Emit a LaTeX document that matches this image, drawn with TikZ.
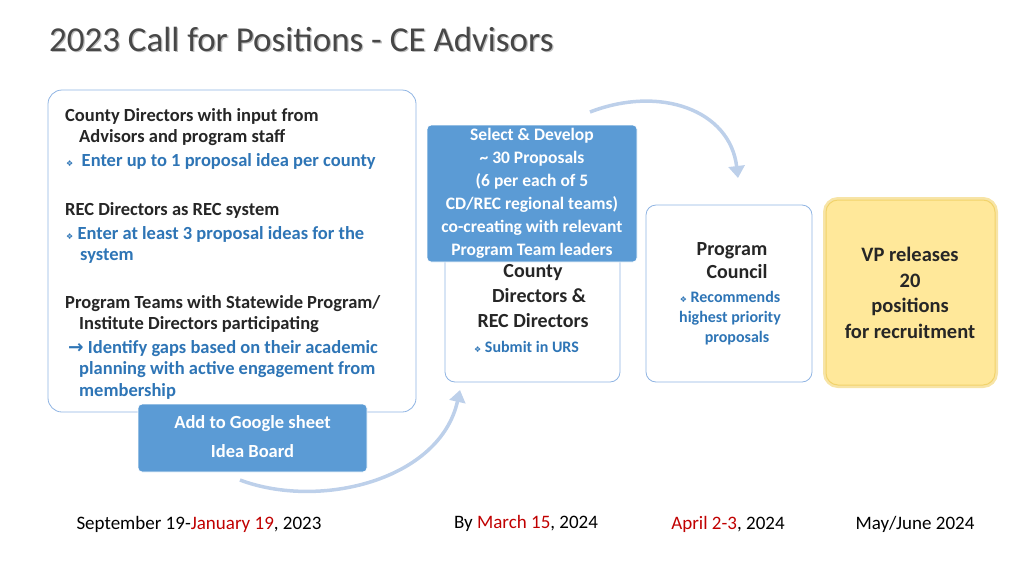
\documentclass[tikz,border=0pt]{standalone}
\usepackage{fontspec}
\setmainfont{Carlito}
\newfontfamily\symfont{DejaVu Sans}
\usetikzlibrary{positioning}
\usetikzlibrary{arrows.meta}
\definecolor{boxline}{HTML}{8FB4E3}
\definecolor{bluefill}{HTML}{5B9BD5}
\definecolor{bluetext}{HTML}{2E75B6}
\definecolor{darktext}{HTML}{262626}
\definecolor{vpfill}{HTML}{FFE89A}
\definecolor{vpline}{HTML}{F2D36B}
\definecolor{arcline}{HTML}{BDD0EA}
\definecolor{datered}{HTML}{C00000}
\newcommand{\dia}{{\symfont\footnotesize\char"2756}}
\newcommand{\rar}{{\symfont\char"2192}}
\tikzset{
  outlinebox/.style={draw=boxline,line width=0.8pt,rounded corners=14pt,fill=white},
  bluebox/.style={draw=white,line width=0.8pt,fill=bluefill,rounded corners=4pt},
  dark/.style={text=darktext,font=\bfseries\fontsize{18.5}{21.5}\selectfont,align=left,anchor=north west,inner sep=0pt},
  blue/.style={dark,text=bluetext},
  whitetext/.style={text=white,font=\bfseries\fontsize{18.5}{29}\selectfont,align=center},
  arc/.style={arcline,line width=3.5pt,-{Triangle[length=12pt,width=16pt]}},
  date/.style={font=\fontsize{19}{22}\selectfont,text=black}
}
\begin{document}
\begin{tikzpicture}[x=1pt,y=-1pt]
	\useasboundingbox (0,0) rectangle (1024,576);
	
	% title
	\node[anchor=west,text=gray!50,font=\fontsize{35}{40}\selectfont] at (46.8,40.8) {2023 Call for Positions - CE Advisors};
	\node[anchor=west,text=darktext!85,font=\fontsize{35}{40}\selectfont] (title) at (45.5,39.5) {2023 Call for Positions - CE Advisors};
	
	% arcs
	\coordinate (topstart) at (590,112);
	\coordinate (topend) at (738,178);
	\draw[arc] (topstart) .. controls (660,85) and (730,110) .. (topend);
	\coordinate (botstart) at (240,480);
	\coordinate (botend) at (460,390);
	\draw[arc] (botstart) .. controls (320,510) and (440,480) .. (botend);
	
	% left box
	\draw[outlinebox] (48,90) rectangle (416,412);
	\node[dark] (cd) at (65,108) {County Directors with input from\\\hspace{14pt}Advisors and program staff};
	\node[blue] (cdb) at (66,153) {\dia\ \ Enter up to 1 proposal idea per county};
	\node[dark] (rec) at (65,202) {REC Directors as REC system};
	\node[blue] (recb) at (66,226) {\dia\ Enter at least 3 proposal ideas for the\\\hspace{14pt}system};
	\node[dark] (pt) at (65,295) {Program Teams with Statewide Program/\\\hspace{14pt}Institute Directors participating};
	\node[blue] (ptb) at (68,340) {\rar\ Identify gaps based on their academic\\\hspace{11pt}planning with active engagement from\\\hspace{11pt}membership};
	
	% google sheet
	\draw[bluebox] (138,404) rectangle (367,472);
	\node[whitetext] (gs) at (252.5,437) {Add to Google sheet\\Idea Board};
	
	% county directors box
	\draw[outlinebox,rounded corners=10pt] (445,215) rectangle (620,382);
	\node[dark,anchor=north,align=center,font=\bfseries\fontsize{20}{25}\selectfont] (cdr) at (533,264) {County\\\hspace{12pt}Directors \&\\REC Directors};
	\node[blue,font=\bfseries\fontsize{16}{18}\selectfont] (urs) at (474,341) {\dia\ Submit in URS};
	
	% select & develop
	\draw[bluebox] (427,125) rectangle (637,262);
	\node[whitetext,font=\bfseries\fontsize{17.5}{23}\selectfont] (sel) at (532,193.5) {Select \& Develop\\\textasciitilde\ 30 Proposals\\(6 per each of 5\\CD/REC regional teams)\\co-creating with relevant\\Program Team leaders};
	
	% program council
	\draw[outlinebox,rounded corners=10pt] (646,205) rectangle (812,382);
	\node[dark,anchor=north,align=center,font=\bfseries\fontsize{20}{23}\selectfont] (pc) at (732,242) {Program\\\hspace{10pt}Council};
	\node[blue,anchor=north,align=center,font=\bfseries\fontsize{16}{20}\selectfont] (rc) at (730,291) {\dia\ Recommends\\highest priority\\\hspace{14pt}proposals};
	
	% vp box
	\draw[vpline!60,line width=6pt,rounded corners=12pt] (826,200) rectangle (995,385);
	\draw[draw=vpline,fill=vpfill,line width=1pt,rounded corners=12pt] (826,200) rectangle (995,385);
	\node[dark,anchor=center,align=center,font=\bfseries\fontsize{20.5}{25.5}\selectfont] (vp) at (910,293) {VP releases\\20\\positions\\for recruitment};
	
	% dates
	\node[date] (d1) at (199,524) {September 19-\textcolor{datered}{January 19}, 2023};
	\node[date] (d2) at (526,523) {By \textcolor{datered}{March 15}, 2024};
	\node[date] (d3) at (728,524) {\textcolor{datered}{April 2-3}, 2024};
	\node[date] (d4) at (915,524) {May/June 2024};
\end{tikzpicture}
\end{document}
